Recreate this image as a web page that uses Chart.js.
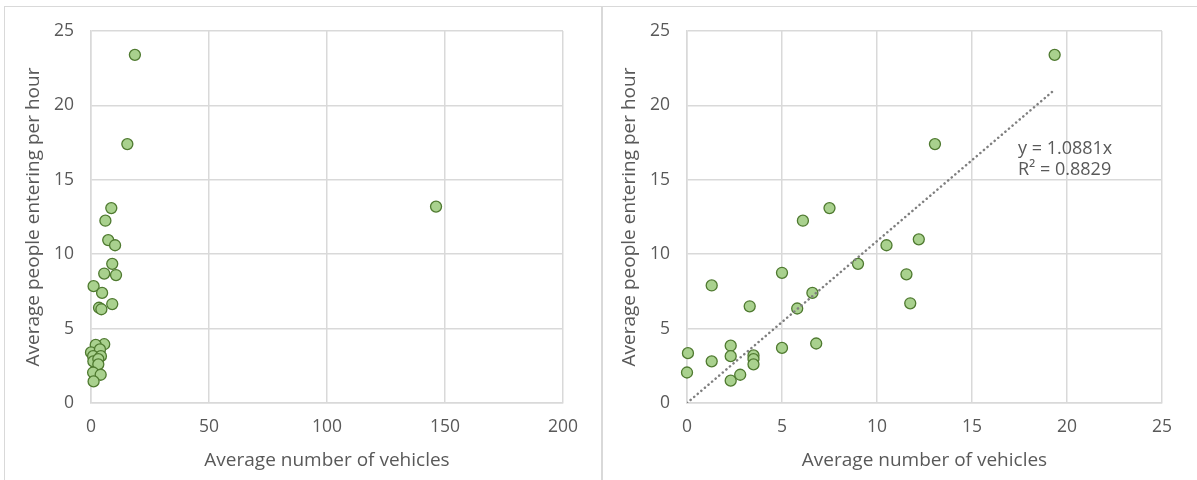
<!DOCTYPE html>
<html>
<head>
<meta charset="utf-8">
<script src="https://cdn.jsdelivr.net/npm/chart.js@4/dist/chart.umd.min.js"></script>
<style>
body { margin:0; background:#fff; width:1197px; height:480px; overflow:hidden; position:relative; }
.panel { position:absolute; top:6px; height:520px; border:1px solid #d9d9d9; }
#p1 { left:4px; width:596px; }
#p2 { left:602px; width:620px; }
.box { position:absolute; top:0; height:480px; }
</style>
</head>
<body>
<div class="panel" id="p1"></div>
<div class="panel" id="p2"></div>
<div class="box" style="left:0;width:600px"><canvas id="chartAll"></canvas></div>
<div class="box" style="left:604px;width:593px"><canvas id="chartTrim"></canvas></div>
<script>
Chart.defaults.font.family = '"Open Sans", sans-serif';
Chart.defaults.color = '#595959';

// all locations
var vehiclesAll = [18.6, 15.4, 8.6, 6.1, 7.3, 10.2, 9.0, 5.6, 10.6, 1.1, 4.7, 3.4, 4.4, 9.0,
                   5.6, 2.0, 0.0, 3.8, 0.9, 4.2, 1.0, 3.1, 3.1, 0.9, 4.1, 1.1, 146.2];
var peopleAll   = [23.4, 17.4, 13.1, 12.25, 10.95, 10.6, 9.35, 8.7, 8.6, 7.85, 7.4, 6.4, 6.3, 6.65,
                   3.95, 3.9, 3.4, 3.6, 3.15, 3.15, 2.8, 2.95, 2.6, 2.05, 1.9, 1.45, 13.2];

// without the outlier
var vehiclesTrim = [0.05, 0.0, 1.3, 1.3, 2.3, 2.3, 2.3, 2.8, 3.3, 3.5, 3.5, 3.5, 5.0, 5.0,
                    5.8, 6.1, 6.6, 6.8, 7.5, 9.0, 10.5, 13.05, 12.2, 11.55, 11.75, 19.35];
var peopleTrim   = [3.35, 2.05, 7.9, 2.8, 3.85, 3.15, 1.5, 1.9, 6.5, 3.2, 2.95, 2.6, 8.75, 3.7,
                    6.35, 12.25, 7.4, 4.0, 13.1, 9.35, 10.6, 17.4, 11.0, 8.65, 6.7, 23.4];

var xTicksAll  = [0, 50, 100, 150, 200];
var xTicksTrim = [0, 5, 10, 15, 20, 25];
var yTicks     = [0, 5, 10, 15, 20, 25];

var slope = 1.0881;
var trendText = ['y = 1.0881x', 'R\u00b2 = 0.8829'];

function toPoints(xs, ys) {
  return xs.map(function (v, i) { return { x: v, y: ys[i] }; });
}

function useTicks(list) {
  return function (scale) {
    scale.ticks = list.map(function (v) { return { value: v }; });
  };
}

function makeOptions(xTicks, padLeft, padRight, yWidth) {
  return {
    responsive: true,
    maintainAspectRatio: false,
    animation: false,
    layout: { padding: { left: padLeft, right: padRight, top: 31, bottom: 0 } },
    plugins: { legend: { display: false }, tooltip: { enabled: false } },
    scales: {
      x: {
        type: 'linear',
        min: xTicks[0],
        max: xTicks[xTicks.length - 1],
        afterBuildTicks: useTicks(xTicks),
        afterFit: function (scale) { scale.height = 77; },
        grid: { color: '#d9d9d9', lineWidth: 1.5, drawTicks: false },
        border: { color: '#d9d9d9', width: 1.5 },
        ticks: { padding: 14, font: { size: 17.5 } },
        title: { display: true, text: 'Average number of vehicles', font: { size: 19 }, padding: { top: 0, bottom: 8 } }
      },
      y: {
        min: yTicks[0],
        max: yTicks[yTicks.length - 1],
        afterBuildTicks: useTicks(yTicks),
        afterFit: function (scale) { scale.width = yWidth; },
        grid: { color: '#d9d9d9', lineWidth: 1.5, drawTicks: false },
        border: { color: '#d9d9d9', width: 1.5 },
        ticks: { padding: 17, font: { size: 17.5 } },
        title: { display: true, text: 'Average people entering per hour', font: { size: 19 }, padding: { top: 4, bottom: 0 } }
      }
    }
  };
}

var markerStyle = {
  backgroundColor: '#a9d18e',
  borderColor: '#4f7a30',
  borderWidth: 1.3,
  pointRadius: 5.5,
  clip: false
};

new Chart(document.getElementById('chartAll'), {
  type: 'scatter',
  data: {
    datasets: [Object.assign({ data: toPoints(vehiclesAll, peopleAll) }, markerStyle)]
  },
  options: makeOptions(xTicksAll, 18, 37, 73)
});

var maxX = Math.max.apply(null, vehiclesTrim);

var trendLabel = {
  id: 'trendLabel',
  afterDatasetsDraw: function (chart) {
    var ctx = chart.ctx;
    var x = chart.scales.x, y = chart.scales.y;
    ctx.save();
    ctx.font = '18px "Open Sans", sans-serif';
    ctx.fillStyle = '#595959';
    ctx.textBaseline = 'middle';
    ctx.fillText(trendText[0], x.getPixelForValue(17.42), y.getPixelForValue(17.1));
    ctx.fillText(trendText[1], x.getPixelForValue(17.42), y.getPixelForValue(15.65));
    ctx.restore();
  }
};

new Chart(document.getElementById('chartTrim'), {
  type: 'scatter',
  data: {
    datasets: [
      {
        type: 'line',
        data: [{ x: 0, y: 0 }, { x: maxX, y: slope * maxX }],
        borderColor: '#7f7f7f',
        borderWidth: 2.5,
        borderDash: [0.1, 4.6],
        borderCapStyle: 'round',
        pointRadius: 0,
        fill: false,
        order: 0
      },
      Object.assign({ data: toPoints(vehiclesTrim, peopleTrim), order: 1 }, markerStyle)
    ]
  },
  options: makeOptions(xTicksTrim, 10, 35, 73),
  plugins: [trendLabel]
});
</script>
</body>
</html>
